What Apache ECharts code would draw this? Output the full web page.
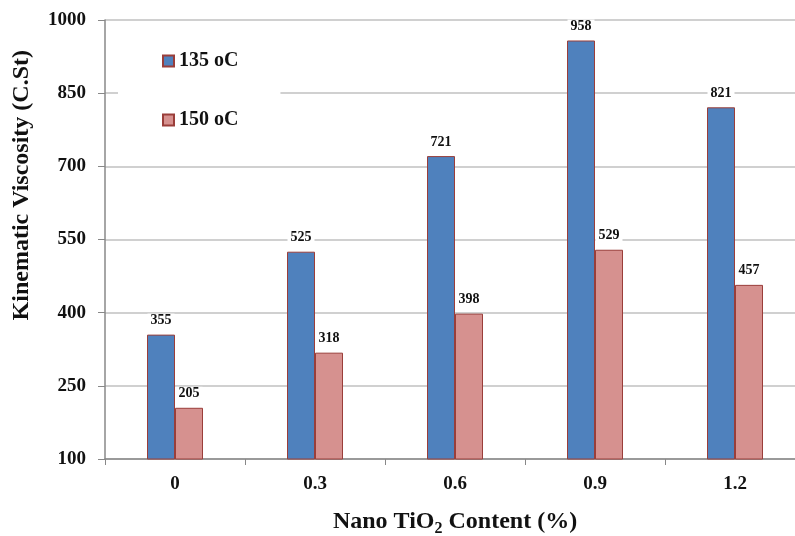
<!DOCTYPE html>
<html>
<head>
<meta charset="utf-8">
<script src="https://cdn.jsdelivr.net/npm/echarts@6/dist/echarts.min.js"></script>
<style>
  html, body { margin: 0; padding: 0; background: #fff; }
  #chart { width: 795px; height: 536px; }
</style>
</head>
<body>
<div id="chart"></div>
<script>
// Kinematic viscosity of binder vs. nano TiO2 content at two temperatures
const categories = ['0', '0.3', '0.6', '0.9', '1.2'];
const visc135 = [355, 525, 721, 958, 821];
const visc150 = [205, 318, 398, 529, 457];
const seriesNames = ['135 oC', '150 oC'];
const yTicks = { min: 100, max: 1000, interval: 150 };

const FONT = '"Liberation Serif", "Times New Roman", serif';
const BORDER = '#9A3E3A';

const chart = echarts.init(document.getElementById('chart'), null, { renderer: 'canvas' });

const labelStyle = {
  show: true,
  position: 'top',
  distance: 7,
  fontFamily: FONT,
  fontWeight: 'bold',
  fontSize: 14,
  color: '#111',
  backgroundColor: '#fff',
  padding: [0, 3, 0, 3]
};

chart.setOption({
  animation: false,
  backgroundColor: '#fff',
  grid: { left: 105, top: 20, right: -10, bottom: 77, containLabel: false, outerBoundsMode: 'none' },
  legend: {
    orient: 'vertical',
    left: 118,
    top: 43,
    padding: [8, 42, 8, 44],
    backgroundColor: '#fff',
    itemWidth: 11,
    itemHeight: 11,
    itemGap: 39,
    icon: 'rect',
    textStyle: { fontFamily: FONT, fontWeight: 'bold', fontSize: 20, color: '#111' },
    data: seriesNames
  },
  xAxis: {
    type: 'category',
    data: categories,
    axisLine: { lineStyle: { color: '#888', width: 1.5 } },
    axisTick: { show: true, length: 6, lineStyle: { color: '#888' } },
    axisLabel: { fontFamily: FONT, fontWeight: 'bold', fontSize: 19, color: '#111', margin: 16 },
    name: '{a|Nano TiO}{s|2}{a| Content (%)}',
    nameLocation: 'middle',
    nameGap: 48,
    nameTextStyle: {
      rich: {
        a: { fontFamily: FONT, fontWeight: 'bold', fontSize: 24, color: '#111', lineHeight: 30, verticalAlign: 'middle' },
        s: { fontFamily: FONT, fontWeight: 'bold', fontSize: 16, color: '#111', lineHeight: 16, verticalAlign: 'bottom' }
      }
    }
  },
  yAxis: {
    type: 'value',
    min: yTicks.min,
    max: yTicks.max,
    interval: yTicks.interval,
    axisLine: { show: true, lineStyle: { color: '#888', width: 1.5 } },
    axisTick: { show: true, length: 7, lineStyle: { color: '#888' } },
    axisLabel: {
      fontFamily: FONT, fontWeight: 'bold', fontSize: 19, color: '#111', margin: 19,
      formatter: (v) => String(v)
    },
    splitLine: { show: true, lineStyle: { color: '#c0c0c0', width: 1.5 } }
  },
  graphic: [{
    type: 'text',
    left: 10,
    top: 50,
    rotation: Math.PI / 2,
    style: {
      text: 'Kinematic Viscosity (C.St)',
      fontFamily: FONT,
      fontWeight: 'bold',
      fontSize: 24,
      fill: '#111'
    }
  }],
  series: [
    {
      name: seriesNames[0],
      type: 'bar',
      data: visc135,
      barWidth: 28,
      barGap: '0%',
      itemStyle: { color: '#4F81BD', borderColor: BORDER, borderWidth: 1 },
      label: labelStyle
    },
    {
      name: seriesNames[1],
      type: 'bar',
      data: visc150,
      barWidth: 28,
      barGap: '0%',
      itemStyle: { color: '#D6918F', borderColor: BORDER, borderWidth: 1 },
      label: labelStyle
    }
  ]
});
</script>
</body>
</html>
